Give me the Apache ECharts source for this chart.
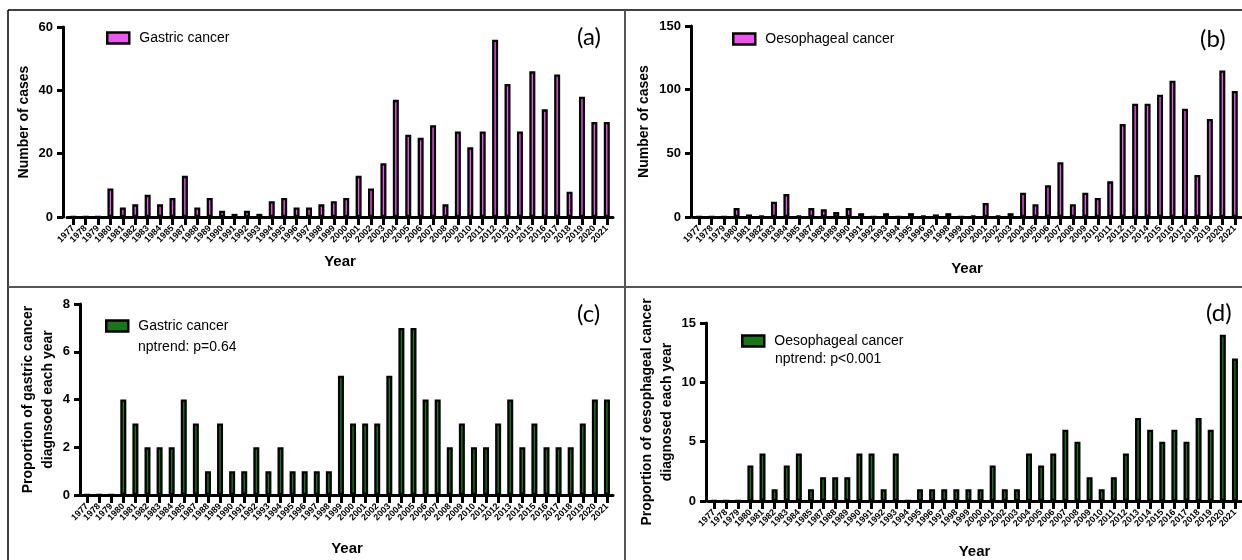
<!DOCTYPE html>
<html>
<head>
<meta charset="utf-8">
<script src="https://cdn.jsdelivr.net/npm/echarts@6/dist/echarts.min.js"></script>
<style>
html,body{margin:0;padding:0;background:#fff;}
#chart{width:1242px;height:560px;}
</style>
</head>
<body>
<div id="chart"></div>
<script>
const years = ['1977','1978','1979','1980','1981','1982','1983','1984','1985','1987','1988','1989','1990','1991','1992','1993','1994','1995','1996','1997','1998','1999','2000','2001','2002','2003','2004','2005','2006','2007','2008','2009','2010','2011','2012','2013','2014','2015','2016','2017','2018','2019','2020','2021'];

const gastricCases = [0,0,0,9,3,4,7,4,6,13,3,6,2,1,2,1,5,6,3,3,4,5,6,13,9,17,37,26,25,29,4,27,22,27,56,42,27,46,34,45,8,38,30,30];
const oesophagealCases = [0,0,0,7,2,1,12,18,1,7,6,4,7,3,0,3,0,3,1,2,3,0,1,11,1,3,19,10,25,43,10,19,15,28,73,89,89,96,107,85,33,77,115,99];
const gastricProportion = [0,0,0,4,3,2,2,2,4,3,1,3,1,1,2,1,2,1,1,1,1,5,3,3,3,5,7,7,4,4,2,3,2,2,3,4,2,3,2,2,2,3,4,4];
const oesophagealProportion = [0,0,0,3,4,1,3,4,1,2,2,2,4,4,1,4,0,1,1,1,1,1,1,3,1,1,4,3,4,6,5,2,1,2,4,7,6,5,6,5,7,6,14,12];

const yTicksA = {min:0, max:60, interval:20};
const yTicksB = {min:0, max:150, interval:50};
const yTicksC = {min:0, max:8, interval:2};
const yTicksD = {min:0, max:15, interval:5};

const FONT = 'Liberation Sans, Arial, sans-serif';
const PINK = '#EE55EE';
const GREEN = '#1B761B';

const chart = echarts.init(document.getElementById('chart'), null, {renderer:'canvas'});

const grids = [
  {left:67, top:27, width:546, height:190},
  {left:693, top:26, width:548, height:191},
  {left:81, top:304, width:532, height:191},
  {left:708, top:323, width:533, height:178}
];
const yOffsets = [4, 2, 1, 2];
const yNameGaps = [23, 37, 22, 29];
const xNameGaps = [37, 44, 46, 43];
const yNames = ['Number of cases', 'Number of cases', 'Proportion of gastric cancer\ndiagnsoed each year', 'Proportion of oesophageal cancer\ndiagnosed each year'];
const yRanges = [yTicksA, yTicksB, yTicksC, yTicksD];

const xAxes = grids.map((g, i) => ({
  type:'category', gridIndex:i, data:years,
  axisLine:{show:true, lineStyle:{color:'#000', width:3}},
  axisTick:{show:true, alignWithLabel:true, length:8, lineStyle:{color:'#000', width:3}},
  axisLabel:{interval:0, rotate:45, fontSize:9, fontWeight:'bold', color:'#000', margin:10, fontFamily:FONT},
  splitLine:{show:false},
  name:'Year', nameLocation:'middle', nameGap:xNameGaps[i],
  nameTextStyle:{fontSize:15, fontWeight:'bold', color:'#000', fontFamily:FONT}
}));

const yAxes = grids.map((g, i) => ({
  type:'value', gridIndex:i, min:yRanges[i].min, max:yRanges[i].max, interval:yRanges[i].interval,
  offset:yOffsets[i],
  axisLine:{show:true, lineStyle:{color:'#000', width:3}},
  axisTick:{show:true, length:6, lineStyle:{color:'#000', width:3}},
  axisLabel:{fontSize:13, fontWeight:'bold', color:'#000', margin:10, fontFamily:FONT},
  splitLine:{show:false},
  name:yNames[i], nameLocation:'middle', nameGap:yNameGaps[i],
  nameTextStyle:{fontSize:14, fontWeight:'bold', color:'#000', fontFamily:FONT, lineHeight:20}
}));

const seriesDefs = [
  {name:'Gastric cancer', data:gastricCases, color:PINK},
  {name:'Oesophageal cancer', data:oesophagealCases, color:PINK},
  {name:'Gastric cancer proportion', data:gastricProportion, color:GREEN},
  {name:'Oesophageal cancer proportion', data:oesophagealProportion, color:GREEN}
];

const series = seriesDefs.map((s, i) => ({
  type:'bar', name:s.name, xAxisIndex:i, yAxisIndex:i, data:s.data,
  barWidth:6,
  itemStyle:{color:s.color, borderColor:'#000', borderWidth:2.3},
  emphasis:{disabled:true}
}));

const legendPos = [
  {left:106, top:31},
  {left:732, top:32},
  {left:105, top:319},
  {left:741, top:334}
];
const legendLabels = ['Gastric cancer', 'Oesophageal cancer', 'Gastric cancer', 'Oesophageal cancer'];

const legends = seriesDefs.map((s, i) => ({
  data:[s.name], left:legendPos[i].left, top:legendPos[i].top, padding:0,
  itemWidth:22, itemHeight:11, icon:'rect', selectedMode:false,
  formatter:() => legendLabels[i],
  itemStyle:{borderColor:'#000', borderWidth:2.5},
  textStyle:{fontSize:14, color:'#000', fontFamily:FONT, padding:[0,0,0,5]}
}));

const lineStyleDark = {stroke:'#000', lineWidth:1.5};
const lineStyleGrey = {stroke:'#555', lineWidth:2};

const graphics = [
  {type:'line', shape:{x1:8, y1:10, x2:1242, y2:10}, style:lineStyleDark, silent:true},
  {type:'line', shape:{x1:8, y1:10, x2:8, y2:560}, style:lineStyleDark, silent:true},
  {type:'line', shape:{x1:625, y1:10, x2:625, y2:560}, style:lineStyleGrey, silent:true},
  {type:'line', shape:{x1:8, y1:287, x2:1242, y2:287}, style:lineStyleGrey, silent:true},
  {type:'text', left:577, top:25, style:{text:'(a)', font:'24px Lato, "Open Sans", sans-serif', fill:'#000'}},
  {type:'text', left:1200, top:27, style:{text:'(b)', font:'24px Lato, "Open Sans", sans-serif', fill:'#000'}},
  {type:'text', left:577, top:302, style:{text:'(c)', font:'24px Lato, "Open Sans", sans-serif', fill:'#000'}},
  {type:'text', left:1206, top:301, style:{text:'(d)', font:'24px Lato, "Open Sans", sans-serif', fill:'#000'}},
  {type:'text', left:138, top:340, style:{text:'nptrend: p=0.64', font:'14px ' + FONT, fill:'#000'}},
  {type:'text', left:775, top:352, style:{text:'nptrend: p<0.001', font:'14px ' + FONT, fill:'#000'}}
];

chart.setOption({
  animation:false,
  backgroundColor:'#fff',
  grid:grids,
  xAxis:xAxes,
  yAxis:yAxes,
  legend:legends,
  series:series,
  graphic:graphics
});
</script>
</body>
</html>
